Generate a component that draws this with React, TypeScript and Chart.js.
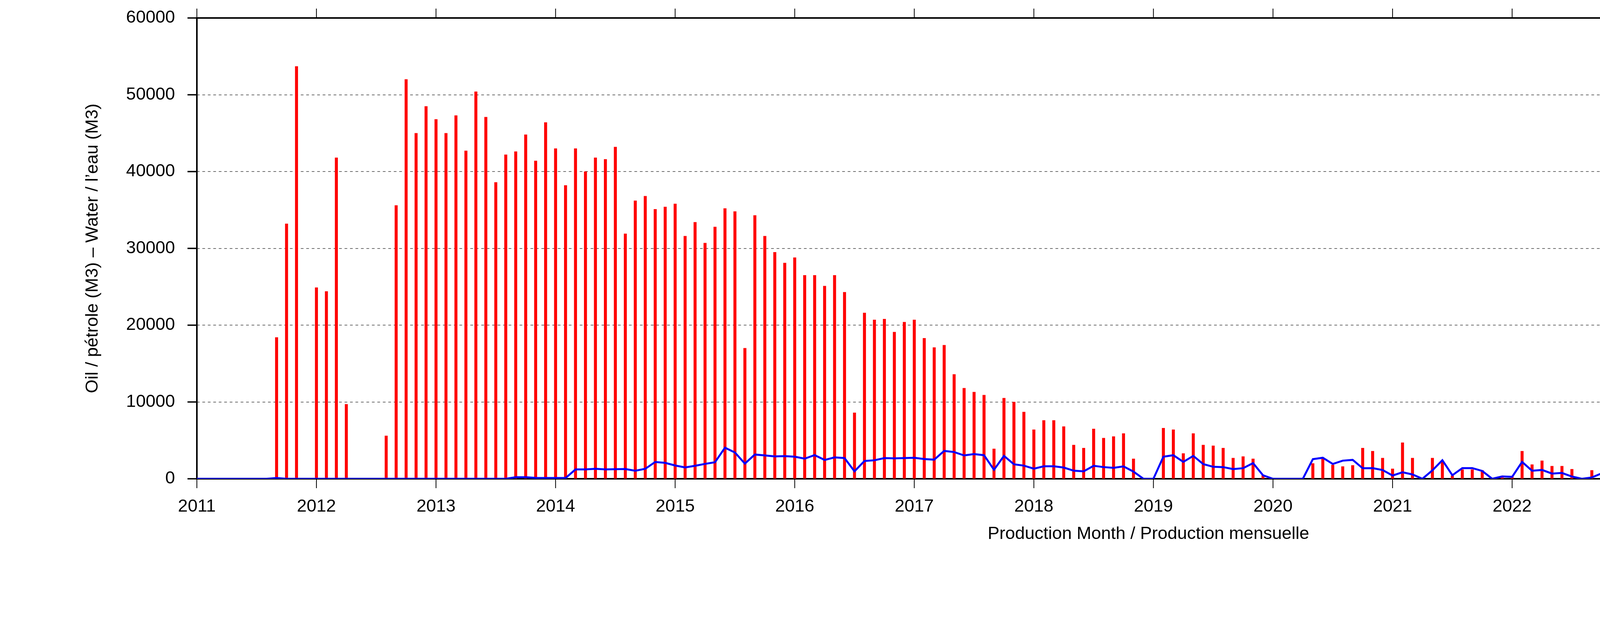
import React, { useEffect, useRef } from "react";
import { Chart, registerables } from "chart.js";

Chart.register(...registerables);

// one entry per year, 12 months each (Jan..Dec)
const years = [2011, 2012, 2013, 2014, 2015, 2016, 2017, 2018, 2019, 2020, 2021, 2022, 2023, 2024, 2025, 2026];
const yearLabels = years.map((y) => String(y));

// oil / pétrole (M3), monthly
const oil = [
    0, 0, 0, 0, 0, 0, 0, 0, 18400, 33200, 53700, 0, // 2011
    24900, 24400, 41800, 9700, 0, 0, 0, 5600, 35600, 52000, 45000, 48500, // 2012
    46800, 45000, 47300, 42700, 50400, 47100, 38600, 42200, 42600, 44800, 41400, 46400, // 2013
    43000, 38200, 43000, 40000, 41800, 41600, 43200, 31900, 36200, 36800, 35100, 35400, // 2014
    35800, 31600, 33400, 30700, 32800, 35200, 34800, 17000, 34300, 31600, 29500, 28100, // 2015
    28800, 26500, 26500, 25100, 26500, 24300, 8600, 21600, 20700, 20800, 19100, 20400, // 2016
    20700, 18300, 17100, 17400, 13600, 11800, 11300, 10900, 3900, 10500, 10000, 8700, // 2017
    6400, 7600, 7600, 6800, 4400, 4000, 6500, 5300, 5500, 5900, 2600, 0, // 2018
    0, 6600, 6400, 3300, 5900, 4400, 4300, 4000, 2700, 2900, 2600, 450, // 2019
    0, 0, 0, 0, 2000, 2600, 1800, 1600, 1750, 4000, 3600, 2700, // 2020
    1300, 4700, 2700, 0, 2700, 2300, 400, 1200, 1200, 1100, 0, 150, // 2021
    250, 3600, 1850, 2350, 1650, 1650, 1250, 0, 1100, 2450, 2100, 2800, // 2022
    3400, 4300, 2000, 900, 4200, 5750, 4850, 5800, 4750, 750, 1100, 850, // 2023
    0, 0, 0, 0, 0, 0, 0, 0, 0, 0, 0, 0, // 2024
    0, 0, 0, 0, 3300, 2800, 1400, 700, 0, 0, 0, 0, // 2025
    0, 0, 0, 1400, 2000, 1100, 0, 0, 0, 0, 0, 0, // 2026
];

// water / l'eau (M3), monthly
const water = [
    0, 0, 0, 0, 0, 0, 0, 0, 100, 0, 0, 0, // 2011
    0, 0, 0, 0, 0, 0, 0, 0, 0, 0, 0, 0, // 2012
    0, 0, 0, 0, 0, 0, 0, 0, 200, 200, 120, 100, // 2013
    100, 100, 1220, 1220, 1300, 1220, 1250, 1270, 1050, 1300, 2190, 2070, // 2014
    1730, 1480, 1690, 1940, 2150, 4050, 3420, 1980, 3160, 3040, 2910, 2950, // 2015
    2870, 2620, 3080, 2450, 2780, 2700, 970, 2320, 2410, 2700, 2660, 2700, // 2016
    2740, 2570, 2490, 3630, 3480, 3040, 3220, 3070, 1170, 2980, 1890, 1710, // 2017
    1320, 1630, 1630, 1460, 1050, 970, 1690, 1520, 1420, 1610, 930, 0, // 2018
    0, 2880, 3070, 2200, 2980, 1910, 1560, 1520, 1260, 1380, 2040, 450, // 2019
    0, 0, 0, 0, 2550, 2740, 1930, 2360, 2460, 1370, 1390, 1140, // 2020
    420, 850, 560, 0, 1100, 2420, 460, 1390, 1390, 1020, 0, 300, // 2021
    250, 2200, 1050, 1150, 680, 760, 290, 0, 170, 710, 510, 590, // 2022
    640, 1390, 850, 680, 1690, 2630, 2150, 3730, 3390, 760, 900, 590, // 2023
    0, 0, 0, 0, 0, 0, 0, 0, 0, 0, 0, 0, // 2024
    0, 0, 0, 0, 2320, 1920, 560, 420, 0, 0, 0, 0, // 2025
    0, 0, 0, 470, 560, 340, 0, 0, 0, 0, 0, 0, // 2026
];

const yTicks = [0, 10000, 20000, 30000, 40000, 50000, 60000];

const seriesLabels = ["oil / pétrole", "water / l’eau"];
const seriesColors = ["#ff0000", "#0000ff"];

const FONT = "'Liberation Sans', Arial, Helvetica, sans-serif";

// border, outward ticks on all four sides and the legend inside the plot
const framePlugin = {
    id: "frame",
    beforeDatasetsDraw(chart: any) {
        const { ctx, chartArea } = chart;
        const { left, right, top, bottom } = chartArea;
        const xs = chart.scales.x;
        const ys = chart.scales.y;
        ctx.save();
        ctx.strokeStyle = "#000";
        ctx.lineWidth = 2;
        years.forEach((_, i) => {
            const px = xs.getPixelForValue(i * 12);
            ctx.beginPath();
            ctx.moveTo(px, top);
            ctx.lineTo(px, top - 24);
            ctx.moveTo(px, bottom);
            ctx.lineTo(px, bottom + 24);
            ctx.stroke();
        });
        ctx.lineWidth = 3.5;
        yTicks.forEach((v) => {
            const py = ys.getPixelForValue(v);
            ctx.beginPath();
            ctx.moveTo(left - 24, py);
            ctx.lineTo(left, py);
            ctx.moveTo(right, py);
            ctx.lineTo(right + 24, py);
            ctx.stroke();
        });
        ctx.lineWidth = 4;
        ctx.strokeRect(left, top, right - left, bottom - top);
        ctx.restore();
    },
    afterDraw(chart: any) {
        const { ctx, chartArea } = chart;
        ctx.save();
        ctx.font = `45px ${FONT}`;
        ctx.fillStyle = "#000";
        ctx.textAlign = "right";
        ctx.textBaseline = "middle";
        seriesLabels.forEach((label, i) => {
            const y = chartArea.top + 50 + i * 46;
            ctx.fillText(label, chartArea.right - 222, y + 2);
            ctx.strokeStyle = seriesColors[i];
            ctx.lineWidth = 5;
            ctx.beginPath();
            ctx.moveTo(chartArea.right - 192, y);
            ctx.lineTo(chartArea.right - 55, y);
            ctx.stroke();
        });
        ctx.restore();
    },
};

const App: React.FC = () => {
    const chartRef = useRef<HTMLCanvasElement | null>(null);
    const chartInstance = useRef<Chart | null>(null);

    useEffect(() => {
        document.body.style.margin = "0";
        if (chartInstance.current) {
            chartInstance.current.destroy();
        }
        if (!chartRef.current) return;
        const ctx = chartRef.current.getContext("2d");
        if (!ctx) return;

        chartInstance.current = new Chart(ctx, {
            type: "bar",
            data: {
                datasets: [
                    {
                        type: "bar",
                        label: seriesLabels[0],
                        data: oil.map((v, i) => ({ x: i, y: v })),
                        backgroundColor: seriesColors[0],
                        borderWidth: 0,
                        barThickness: 7,
                        order: 2,
                    },
                    {
                        type: "line",
                        label: seriesLabels[1],
                        data: water.map((v, i) => ({ x: i, y: v })),
                        borderColor: seriesColors[1],
                        borderWidth: 5,
                        pointRadius: 0,
                        fill: false,
                        tension: 0,
                        order: 1,
                    },
                ] as any,
            },
            plugins: [framePlugin],
            options: {
                animation: false,
                responsive: false,
                devicePixelRatio: 1,
                layout: {
                    padding: { top: 46, right: 107, left: 211, bottom: 0 },
                },
                plugins: {
                    legend: { display: false },
                    tooltip: { enabled: false },
                },
                scales: {
                    x: {
                        type: "linear",
                        min: 0,
                        max: 191,
                        offset: false,
                        afterBuildTicks: (scale: any) => {
                            scale.ticks = years.map((_, i) => ({ value: i * 12 }));
                        },
                        afterFit: (scale: any) => {
                            scale.height = 369;
                            scale.paddingLeft = 0;
                            scale.paddingRight = 0;
                        },
                        grid: { display: false, drawTicks: false },
                        border: { display: false },
                        ticks: {
                            color: "#000",
                            font: { family: FONT, size: 45 },
                            padding: 45,
                            maxRotation: 0,
                            autoSkip: false,
                            callback: (v: any) => yearLabels[Math.round(Number(v) / 12)],
                        },
                        title: {
                            display: true,
                            text: "Production Month / Production mensuelle",
                            color: "#000",
                            font: { family: FONT, size: 45 },
                            padding: { top: 0, bottom: 200 },
                        },
                    },
                    y: {
                        type: "linear",
                        min: 0,
                        max: 60000,
                        afterBuildTicks: (scale: any) => {
                            scale.ticks = yTicks.map((v) => ({ value: v }));
                        },
                        afterFit: (scale: any) => {
                            scale.width = 293;
                            scale.paddingTop = 0;
                            scale.paddingBottom = 0;
                        },
                        grid: {
                            drawTicks: false,
                            color: "rgba(0,0,0,0.75)",
                            lineWidth: 1.5,
                        },
                        border: { display: false, dash: [7, 7] },
                        ticks: {
                            color: "#000",
                            font: { family: FONT, size: 45 },
                            padding: 56,
                            callback: (v: any) => String(v),
                        },
                        title: {
                            display: true,
                            text: "Oil / pétrole (M3) – Water / l’eau (M3)",
                            color: "#000",
                            font: { family: FONT, size: 45 },
                            padding: 0,
                        },
                    },
                },
            } as any,
        });

        return () => {
            if (chartInstance.current) {
                chartInstance.current.destroy();
                chartInstance.current = null;
            }
        };
    }, []);

    return (
        <div style={{ width: 5483, height: 1594, background: "#fff" }}>
            <canvas ref={chartRef} width={5483} height={1594} style={{ display: "block" }}></canvas>
        </div>
    );
};

export default App;
